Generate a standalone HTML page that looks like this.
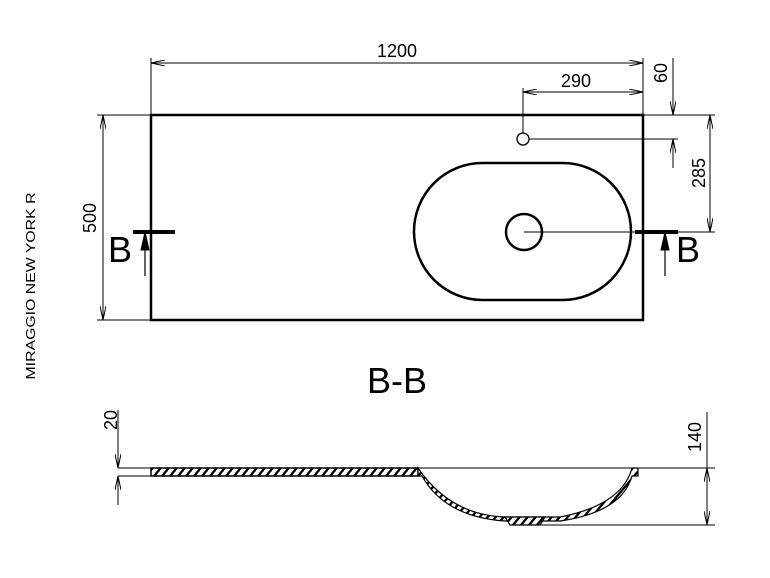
<!DOCTYPE html>
<html><head><style>body{margin:0;background:#fff}svg{display:block}</style></head><body>
<svg width="770" height="578" viewBox="0 0 770 578" xmlns="http://www.w3.org/2000/svg" font-family="Liberation Sans, sans-serif">
<defs>
<marker id="a" viewBox="0 0 14 6" refX="14" refY="3" markerWidth="14" markerHeight="6" markerUnits="userSpaceOnUse" orient="auto-start-reverse"><path d="M0,0 L14,3 L0,6" fill="none" stroke="#000" stroke-width="1"/></marker>
<pattern id="h" width="8" height="8" patternUnits="userSpaceOnUse" patternTransform="skewX(-40)"><rect width="8" height="8" fill="#fff"/><rect width="3" height="8" fill="#000"/></pattern>
</defs>
<g stroke="#000" fill="none">
<rect x="151" y="115" width="492" height="205" stroke-width="2.5"/>
<rect x="414" y="163" width="217" height="137" rx="68.5" stroke-width="2.5"/>
<circle cx="524" cy="232" r="18" stroke-width="2.5"/>
<circle cx="523" cy="139" r="6" stroke-width="1.3"/>
<g stroke-width="1">
<line x1="524" y1="232" x2="643" y2="232"/>
<line x1="529" y1="139" x2="678" y2="139"/>
<line x1="151" y1="58" x2="151" y2="115"/>
<line x1="643" y1="58" x2="643" y2="115"/>
<line x1="151" y1="63" x2="643" y2="63" marker-start="url(#a)" marker-end="url(#a)"/>
<line x1="523" y1="88" x2="523" y2="133"/>
<line x1="523" y1="92" x2="643" y2="92" marker-start="url(#a)" marker-end="url(#a)"/>
<line x1="643" y1="115" x2="715" y2="115"/>
<line x1="643" y1="232" x2="715" y2="232"/>
<line x1="673" y1="58" x2="673" y2="115" marker-end="url(#a)"/>
<line x1="673" y1="168" x2="673" y2="139" marker-end="url(#a)"/>
<line x1="710" y1="115" x2="710" y2="232" marker-start="url(#a)" marker-end="url(#a)"/>
<line x1="97" y1="115" x2="151" y2="115"/>
<line x1="97" y1="320" x2="151" y2="320"/>
<line x1="103" y1="115" x2="103" y2="320" marker-start="url(#a)" marker-end="url(#a)"/>
</g>
<line x1="133" y1="232" x2="175" y2="232" stroke-width="4"/>
<line x1="635" y1="232" x2="678" y2="232" stroke-width="4"/>
<line x1="145" y1="276" x2="145" y2="234" stroke-width="1.2"/>
<path d="M141,250 L145,232 L149,250 Z" fill="#000" stroke-width="1"/>
<line x1="665" y1="276" x2="665" y2="234" stroke-width="1.2"/>
<path d="M661,250 L665,232 L669,250 Z" fill="#000" stroke-width="1"/>
<g stroke-width="1">
<line x1="118" y1="468" x2="715" y2="468"/>
<line x1="118" y1="476" x2="151" y2="476"/>
<line x1="118" y1="410" x2="118" y2="468" marker-end="url(#a)"/>
<line x1="118" y1="505" x2="118" y2="476" marker-end="url(#a)"/>
<line x1="540" y1="525" x2="715" y2="525"/>
<line x1="707" y1="412" x2="707" y2="468"/>
<line x1="707" y1="468" x2="707" y2="525" marker-start="url(#a)" marker-end="url(#a)"/>
</g>
<path d="M151,468 L418,468 L418,476 L151,476 Z" fill="url(#h)" stroke-width="1.5"/>
<path d="M418,468 Q450,515 505,517 L560,517 Q622,505 632,468 L638,468 L638,476 L632,476 Q622,512 560,521 L505,521 Q445,517 422,476 L418,476 Z" fill="url(#h)" stroke-width="1.2"/>
<path d="M505,517 L510,525 L540,525 L545,517 Z" fill="url(#h)" stroke-width="1.2"/>
</g>
<g font-size="18" fill="#000">
<text x="397" y="57" text-anchor="middle">1200</text>
<text x="576" y="87" text-anchor="middle">290</text>
<text transform="translate(667,73) rotate(-90)" text-anchor="middle">60</text>
<text transform="translate(705,173) rotate(-90)" text-anchor="middle">285</text>
<text transform="translate(96,218) rotate(-90)" text-anchor="middle">500</text>
<text transform="translate(117,420) rotate(-90)" text-anchor="middle">20</text>
<text transform="translate(701,437) rotate(-90)" text-anchor="middle">140</text>
</g>
<g font-size="36" fill="#000">
<text x="108" y="262">B</text>
<text x="676" y="262">B</text>
<text x="397" y="393" text-anchor="middle">B-B</text>
</g>
<text transform="translate(35,286) rotate(-90)" text-anchor="middle" font-size="13" textLength="187" lengthAdjust="spacingAndGlyphs" fill="#000">MIRAGGIO NEW YORK R</text>
</svg>
</body></html>
